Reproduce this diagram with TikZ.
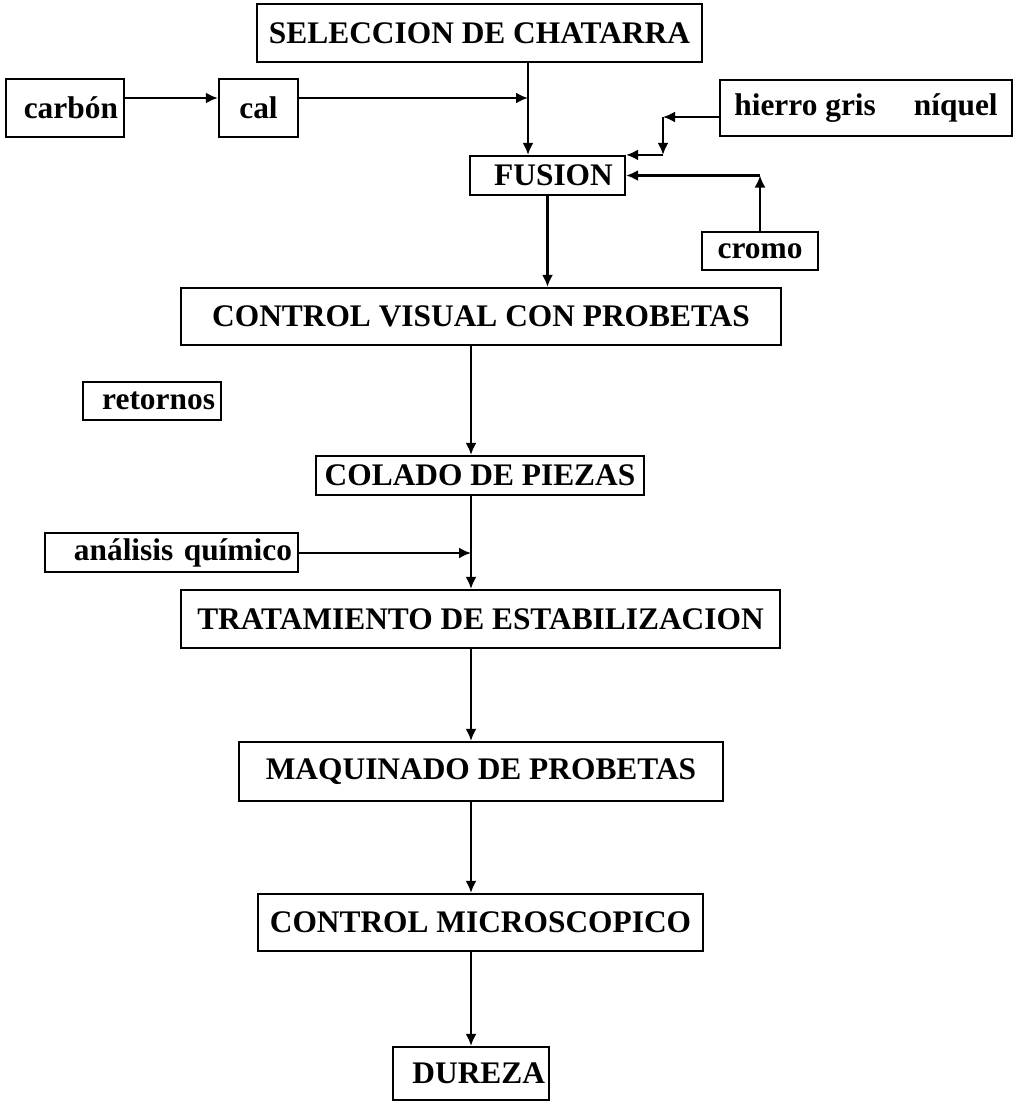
\documentclass[tikz,border=0pt]{standalone}
\usepackage{fontspec}
\setmainfont{Liberation Serif}
\usetikzlibrary{arrows.meta}
\tikzset{>={Latex[length=6pt,width=5.5pt]}}
\tikzset{stage/.style={rectangle, draw, line width=1.1pt, inner sep=0pt, align=center, font=\fontsize{15.7}{18}\selectfont\bfseries}}
\tikzset{input/.style={stage, inner xsep=3pt, align=right}}
\tikzset{flow/.style={->, line width=1.1pt}}

\begin{document}
\begin{tikzpicture}[x=0.5pt, y=-0.5pt]
    \useasboundingbox (0,0) rectangle (1014,1102);

    \node [stage, minimum width=222.5pt, minimum height=29pt] (sel) at (479.5,33) {SELECCION DE CHATARRA};
    \node [input, text width=53pt, minimum height=29pt] (carbon) at (65,108) {carbón};
    \node [stage, minimum width=39.5pt, minimum height=29pt] (cal) at (258.5,108) {cal};
    \node [stage, minimum width=146pt, minimum height=28pt] (hierro) at (866,108) {hierro gris\hspace{19pt}níquel};
    \node [stage, minimum width=77.5pt, minimum height=19.5pt] (fusion) at (547.5,175.5) {\hspace{6pt}FUSION};
    \node [stage, minimum width=58pt, minimum height=19pt] (cromo) at (760,251) {cromo};

    \node [stage, minimum width=300pt, minimum height=28.5pt] (cvis) at (481,316.5) {CONTROL VISUAL CON PROBETAS};
    \node [input, text width=63pt, minimum height=19pt] (retornos) at (152,401) {retornos};
    \node [stage, minimum width=164pt, minimum height=19.5pt] (colado) at (480,475.5) {COLADO DE PIEZAS};
    \node [input, text width=120.5pt, minimum height=19.5pt] (analisis) at (171.5,552.5) {análisis químico};
    \node [stage, minimum width=299.5pt, minimum height=29pt] (trat) at (480.5,619) {TRATAMIENTO DE ESTABILIZACION};
    \node [stage, minimum width=242pt, minimum height=29.5pt] (maq) at (481,771.5) {MAQUINADO DE PROBETAS};
    \node [stage, minimum width=222.5pt, minimum height=28.5pt] (micro) at (480.5,922.5) {CONTROL MICROSCOPICO};
    \node [input, inner xsep=2pt, text width=74pt, minimum height=26.5pt] (dureza) at (471,1073.5) {DUREZA};

    % additions to the melt
    \coordinate (calin) at (528,98);
    \draw [flow] (carbon.east |- calin) -- (cal.west |- calin);
    \draw [flow] (cal.east |- calin) -- (calin);
    \draw [flow] (sel.south -| calin) -- (fusion.north -| calin);

    \coordinate (alloy) at (663,117);
    \coordinate (alloydown) at (alloy |- fusion.north);
    \draw [flow] (hierro.west |- alloy) -- (alloy);
    \draw [flow] (alloy) -- (alloydown);
    \draw [flow] (alloydown) -- (fusion.north east);

    \coordinate (cromoup) at (cromo.north |- fusion.east);
    \draw [flow] (cromo.north) -- (cromoup);
    \draw [flow] (cromoup) -- (fusion.east);

    % main line
    \coordinate (quim) at (471,553);
    \draw [flow] (fusion.south) -- (fusion.south |- cvis.north);
    \draw [flow] (cvis.south -| quim) -- (colado.north -| quim);
    \draw [flow] (analisis.east |- quim) -- (quim);
    \draw [flow] (colado.south -| quim) -- (trat.north -| quim);
    \draw [flow] (trat.south -| quim) -- (maq.north -| quim);
    \draw [flow] (maq.south -| quim) -- (micro.north -| quim);
    \draw [flow] (micro.south -| quim) -- (dureza.north -| quim);

\end{tikzpicture}
\end{document}
